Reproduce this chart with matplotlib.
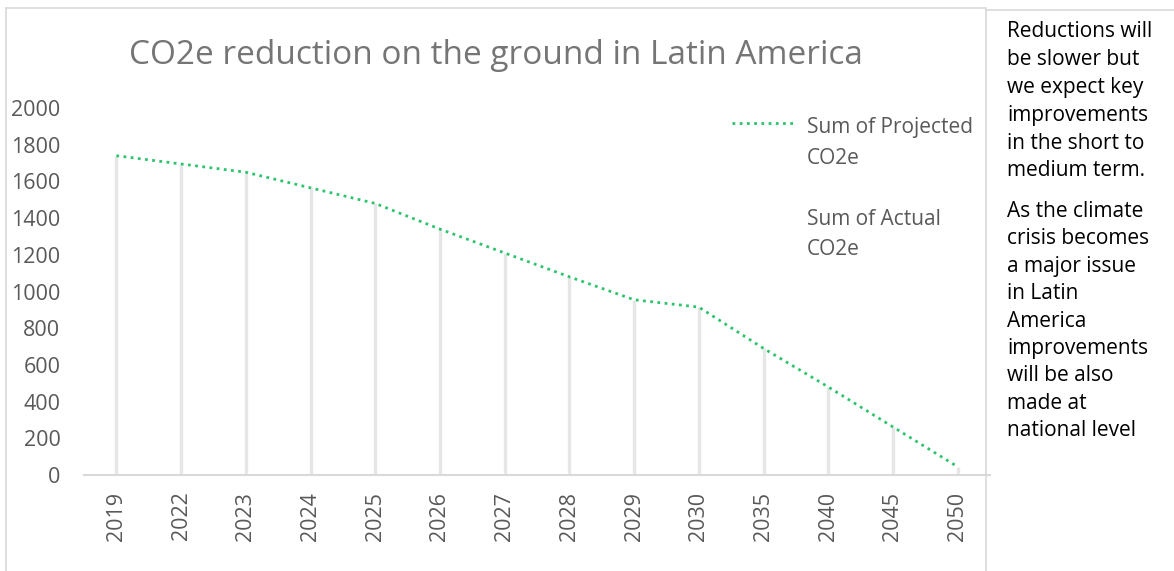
import matplotlib.pyplot as plt
from matplotlib.lines import Line2D
import numpy as np

#%%
'''CO2e reduction on the ground in Latin America'''

years = ['2019', '2022', '2023', '2024', '2025', '2026', '2027', '2028', '2029',
         '2030', '2035', '2040', '2045', '2050']
projected = [1740, 1695, 1650, 1565, 1480, 1340, 1210, 1080, 955, 915, 690, 480, 262, 45]
actual = []  # no actual values recorded yet
yticks = [0, 200, 400, 600, 800, 1000, 1200, 1400, 1600, 1800, 2000]

note1 = "Reductions will\nbe slower but\nwe expect key\nimprovements\nin the short to\nmedium term."
note2 = "As the climate\ncrisis becomes\na major issue\nin Latin\nAmerica\nimprovements\nwill be also\nmade at\nnational level"

plt.rcParams['font.family'] = ['Open Sans', 'DejaVu Sans']
W, H = 1174, 571
fig = plt.figure(figsize=(W/100, H/100), dpi=100)
ax = fig.add_axes([84/W, 1-475/H, (990-84)/W, (475-108)/H])

x = np.arange(len(years))
# grey drop lines down to the axis
ax.vlines(x, 0, projected, color='#e6e6e6', linewidth=2.4, zorder=1)
p1, = ax.plot(x, projected, color='#2ec46e', linewidth=2, linestyle=(0, (1, 1.6)),
              label='Sum of Projected\nCO2e', zorder=3)
p2, = ax.plot(x[:len(actual)], actual, color='none', label='Sum of Actual\nCO2e')

ax.set_xlim(-0.5, len(years)-0.5)
ax.set_ylim(0, 2000)
ax.set_yticks(yticks)
ax.set_yticklabels([str(v) for v in yticks])
ax.set_xticks(x)
ax.set_xticklabels(years, rotation=90)
ax.tick_params(axis='y', length=0, pad=17, labelsize=15.5, labelcolor='#595959')
ax.tick_params(axis='x', length=0, pad=12, labelsize=15.5, labelcolor='#595959')
for s in ['top', 'right', 'left']:
    ax.spines[s].set_visible(False)
ax.spines['bottom'].set_color('#d9d9d9')
ax.spines['bottom'].set_linewidth(1.5)

leg = ax.legend(handles=[p1, p2], loc='upper left', bbox_to_anchor=(732/W, 1-117/H),
                bbox_transform=fig.transFigure, frameon=False, fontsize=15,
                handlelength=3.0, handletextpad=0.6, labelspacing=1.93,
                borderpad=0, borderaxespad=0, labelcolor='#595959')
for t in leg.get_texts():
    t.set_linespacing(1.6)
# put the legend sample level with the first line of its label
hl = leg.legend_handles[0]
hl.set_ydata(np.asarray(hl.get_ydata()) + 15)

fig.text(496/W, 1-55/H, 'CO2e reduction on the ground in Latin America',
         ha='center', va='center', fontsize=24, color='#757575')

fig.text(1007/W, 1-21/H, note1, ha='left', va='top', fontsize=15,
         color='black', linespacing=1.43)
fig.text(1007/W, 1-201/H, note2, ha='left', va='top', fontsize=15,
         color='black', linespacing=1.40)

# chart and text box borders
bc = '#d9d9d9'
fig.add_artist(Line2D([6/W, 6/W], [0, 1-8/H], color=bc, linewidth=1.2))
fig.add_artist(Line2D([6/W, 986/W], [1-8/H, 1-8/H], color=bc, linewidth=1.2))
fig.add_artist(Line2D([986/W, 986/W], [0, 1-10/H], color=bc, linewidth=1.2))
fig.add_artist(Line2D([986/W, 1], [1-10/H, 1-10/H], color=bc, linewidth=1.2))

plt.savefig('out.png', dpi=100)
